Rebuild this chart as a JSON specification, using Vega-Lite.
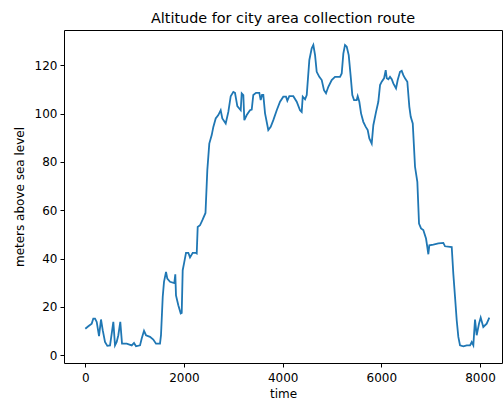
{
  "$schema": "https://vega.github.io/schema/vega-lite/v6.json",
  "width": 438,
  "height": 333,
  "autosize": {"type": "none"},
  "padding": {"left": 64, "top": 30, "right": 1, "bottom": 39},
  "background": "white",
  "title": {
    "text": "Altitude for city area collection route",
    "font": "DejaVu Sans",
    "fontSize": 14.4,
    "fontWeight": "normal",
    "color": "black",
    "anchor": "middle",
    "baseline": "bottom",
    "offset": 4,
    "dy": 14
  },
  "config": {
    "view": {"stroke": "black", "strokeWidth": 1},
    "axis": {
      "domain": false,
      "grid": false,
      "tickColor": "black",
      "tickSize": 4,
      "tickWidth": 1,
      "labelFont": "DejaVu Sans",
      "labelFontSize": 12,
      "labelColor": "black",
      "labelPadding": 3,
      "titleFont": "DejaVu Sans",
      "titleFontSize": 12,
      "titleFontWeight": "normal",
      "titleColor": "black"
    }
  },
  "data": {
    "values": [
      {"time": 0, "alt": 11.0}, {"time": 61, "alt": 12.0}, {"time": 130, "alt": 13.1}, {"time": 162, "alt": 15.2},
      {"time": 197, "alt": 15.2}, {"time": 231, "alt": 13.8}, {"time": 278, "alt": 7.9}, {"time": 318, "alt": 14.8},
      {"time": 353, "alt": 10.4}, {"time": 399, "alt": 5.5}, {"time": 446, "alt": 3.9}, {"time": 501, "alt": 4.1},
      {"time": 535, "alt": 9.0}, {"time": 568, "alt": 13.8}, {"time": 602, "alt": 4.1}, {"time": 636, "alt": 5.5},
      {"time": 669, "alt": 8.3}, {"time": 709, "alt": 13.8}, {"time": 744, "alt": 4.8}, {"time": 839, "alt": 4.8},
      {"time": 941, "alt": 4.1}, {"time": 987, "alt": 5.1}, {"time": 1028, "alt": 3.7}, {"time": 1109, "alt": 4.1},
      {"time": 1143, "alt": 6.9}, {"time": 1190, "alt": 10.1}, {"time": 1230, "alt": 8.3}, {"time": 1311, "alt": 7.6},
      {"time": 1378, "alt": 6.5}, {"time": 1433, "alt": 4.8}, {"time": 1514, "alt": 4.8}, {"time": 1534, "alt": 8.3},
      {"time": 1569, "alt": 24.1}, {"time": 1595, "alt": 30.4}, {"time": 1636, "alt": 34.5}, {"time": 1662, "alt": 31.7},
      {"time": 1717, "alt": 30.4}, {"time": 1804, "alt": 29.9}, {"time": 1824, "alt": 33.5}, {"time": 1838, "alt": 24.8},
      {"time": 1885, "alt": 20.7}, {"time": 1934, "alt": 17.3}, {"time": 1954, "alt": 17.5}, {"time": 1974, "alt": 35.2},
      {"time": 2001, "alt": 38.0}, {"time": 2041, "alt": 42.4}, {"time": 2088, "alt": 42.4}, {"time": 2122, "alt": 40.5},
      {"time": 2177, "alt": 42.4}, {"time": 2234, "alt": 42.4}, {"time": 2258, "alt": 42.1}, {"time": 2278, "alt": 53.1},
      {"time": 2325, "alt": 53.8}, {"time": 2380, "alt": 56.2}, {"time": 2436, "alt": 58.9}, {"time": 2473, "alt": 76.6},
      {"time": 2513, "alt": 87.6}, {"time": 2562, "alt": 91.1}, {"time": 2595, "alt": 94.5}, {"time": 2643, "alt": 98.0},
      {"time": 2696, "alt": 99.4}, {"time": 2744, "alt": 101.4}, {"time": 2777, "alt": 98.0}, {"time": 2846, "alt": 95.9},
      {"time": 2899, "alt": 100.7}, {"time": 2947, "alt": 107.2}, {"time": 3000, "alt": 109.0}, {"time": 3034, "alt": 108.6},
      {"time": 3081, "alt": 103.1}, {"time": 3150, "alt": 101.4}, {"time": 3170, "alt": 108.4}, {"time": 3203, "alt": 107.7},
      {"time": 3223, "alt": 97.3}, {"time": 3272, "alt": 99.4}, {"time": 3338, "alt": 101.4}, {"time": 3373, "alt": 101.7},
      {"time": 3405, "alt": 107.7}, {"time": 3460, "alt": 108.6}, {"time": 3527, "alt": 108.6}, {"time": 3555, "alt": 105.6},
      {"time": 3582, "alt": 107.7}, {"time": 3608, "alt": 107.7}, {"time": 3643, "alt": 100.1}, {"time": 3709, "alt": 93.2},
      {"time": 3758, "alt": 94.5}, {"time": 3811, "alt": 97.3}, {"time": 3880, "alt": 101.4}, {"time": 3947, "alt": 104.9},
      {"time": 4013, "alt": 107.0}, {"time": 4068, "alt": 107.0}, {"time": 4095, "alt": 105.3}, {"time": 4135, "alt": 107.2},
      {"time": 4216, "alt": 107.2}, {"time": 4285, "alt": 104.9}, {"time": 4352, "alt": 101.4}, {"time": 4386, "alt": 100.7},
      {"time": 4407, "alt": 107.0}, {"time": 4454, "alt": 105.9}, {"time": 4488, "alt": 107.7}, {"time": 4541, "alt": 122.2},
      {"time": 4589, "alt": 127.0}, {"time": 4622, "alt": 128.4}, {"time": 4657, "alt": 124.2}, {"time": 4690, "alt": 117.3},
      {"time": 4743, "alt": 115.2}, {"time": 4792, "alt": 113.9}, {"time": 4838, "alt": 109.7}, {"time": 4879, "alt": 108.4},
      {"time": 4926, "alt": 111.1}, {"time": 4994, "alt": 113.9}, {"time": 5061, "alt": 115.2}, {"time": 5163, "alt": 115.2},
      {"time": 5197, "alt": 116.6}, {"time": 5230, "alt": 124.8}, {"time": 5264, "alt": 128.4}, {"time": 5299, "alt": 127.7},
      {"time": 5339, "alt": 124.2}, {"time": 5380, "alt": 115.2}, {"time": 5412, "alt": 107.7}, {"time": 5447, "alt": 105.6},
      {"time": 5501, "alt": 105.6}, {"time": 5521, "alt": 107.2}, {"time": 5554, "alt": 104.9}, {"time": 5589, "alt": 100.1},
      {"time": 5635, "alt": 96.6}, {"time": 5684, "alt": 94.5}, {"time": 5724, "alt": 93.2}, {"time": 5757, "alt": 89.7},
      {"time": 5805, "alt": 87.6}, {"time": 5838, "alt": 95.2}, {"time": 5893, "alt": 100.7}, {"time": 5939, "alt": 104.9},
      {"time": 5974, "alt": 111.8}, {"time": 6008, "alt": 113.2}, {"time": 6055, "alt": 114.6}, {"time": 6089, "alt": 118.0},
      {"time": 6110, "alt": 114.6}, {"time": 6142, "alt": 114.2}, {"time": 6176, "alt": 115.2}, {"time": 6211, "alt": 114.2},
      {"time": 6243, "alt": 112.5}, {"time": 6298, "alt": 110.4}, {"time": 6332, "alt": 113.9}, {"time": 6379, "alt": 117.3},
      {"time": 6413, "alt": 117.7}, {"time": 6446, "alt": 115.9}, {"time": 6480, "alt": 114.6}, {"time": 6527, "alt": 113.2},
      {"time": 6568, "alt": 102.8}, {"time": 6596, "alt": 98.7}, {"time": 6637, "alt": 95.9}, {"time": 6683, "alt": 78.0},
      {"time": 6730, "alt": 71.8}, {"time": 6764, "alt": 54.5}, {"time": 6805, "alt": 52.5}, {"time": 6851, "alt": 51.8},
      {"time": 6906, "alt": 48.3}, {"time": 6932, "alt": 44.8}, {"time": 6953, "alt": 41.8}, {"time": 6973, "alt": 45.5},
      {"time": 7054, "alt": 45.8}, {"time": 7156, "alt": 46.3}, {"time": 7257, "alt": 46.5}, {"time": 7291, "alt": 45.1},
      {"time": 7427, "alt": 44.8}, {"time": 7459, "alt": 33.8}, {"time": 7494, "alt": 24.1}, {"time": 7528, "alt": 14.5},
      {"time": 7561, "alt": 7.6}, {"time": 7595, "alt": 4.1}, {"time": 7662, "alt": 3.7}, {"time": 7731, "alt": 4.1},
      {"time": 7798, "alt": 4.1}, {"time": 7832, "alt": 5.5}, {"time": 7865, "alt": 4.1}, {"time": 7899, "alt": 14.8},
      {"time": 7933, "alt": 8.3}, {"time": 7980, "alt": 13.1}, {"time": 8014, "alt": 15.6}, {"time": 8067, "alt": 11.7},
      {"time": 8136, "alt": 13.1}, {"time": 8189, "alt": 15.6}
    ]
  },
  "mark": {"type": "line", "color": "#1f77b4", "strokeWidth": 1.8, "clip": true},
  "encoding": {
    "x": {
      "field": "time",
      "type": "quantitative",
      "scale": {"domain": [-432, 8446], "nice": false, "zero": false},
      "axis": {"values": [0, 2000, 4000, 6000, 8000], "format": "d", "title": "time", "titlePadding": 5, "labelPadding": 5}
    },
    "y": {
      "field": "alt",
      "type": "quantitative",
      "scale": {"domain": [-3.2, 134.6], "nice": false, "zero": false},
      "axis": {"values": [0, 20, 40, 60, 80, 100, 120], "format": "d", "title": "meters above sea level", "titlePadding": 8}
    }
  }
}
